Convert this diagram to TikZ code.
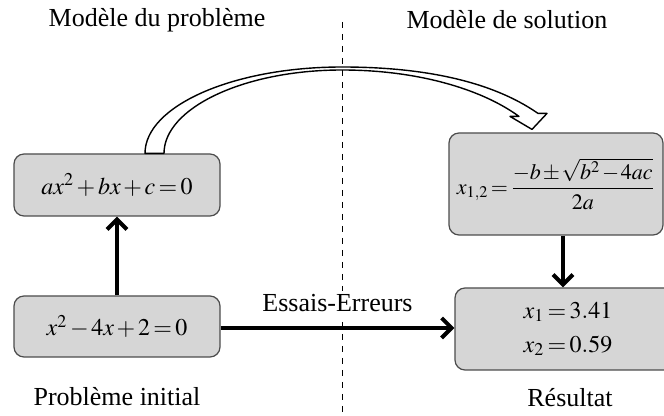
\documentclass[tikz,border=0pt]{standalone}
\usepackage{amsmath}
\usepackage{mathptmx}
\usepackage[no-math]{fontspec}
\setmainfont{Liberation Serif}
\usepackage{tikz}
\usetikzlibrary{arrows.meta,calc,positioning}
\newcommand{\tightmath}{\medmuskip=2mu\relax\thickmuskip=2.5mu\relax}
\newcommand{\tightermath}{\medmuskip=1.5mu\relax\thickmuskip=2mu\relax}
\tikzset{
	model box/.style={draw=black!70, fill=black!16, rounded corners=5pt,
		line width=0.6pt, inner sep=2pt,
		font=\fontsize{12}{14}\selectfont\tightmath},
	caption/.style={font=\fontsize{13}{15}\selectfont, inner sep=1pt},
	flow/.style={line width=2pt,
		-{Straight Barb[length=5pt,width=10pt,line width=2pt]}},
	hollow/.style={draw=black, fill=white, line width=0.7pt, line join=round},
	sep line/.style={dashed, line width=0.5pt}
}

\begin{document}
\begin{tikzpicture}[x=0.5pt,y=-0.5pt]
   \useasboundingbox (0,0) rectangle (664,416);
   % titles
   \node[caption] (tprob) at (157,20) {Modèle du problème};
   \node[caption] (tsol)  at (507,20) {Modèle de solution};
   \coordinate (septop) at (342,22);
   \coordinate (sepbot) at (342,416);
   \draw[sep line] (septop) -- (sepbot);
   % boxes
   \node[model box, minimum width=103pt, minimum height=31pt] (general) at (117,185)
      {$ax^2+bx+c=0$};
   \node[model box, minimum width=103pt, minimum height=30.5pt] (initial) at (117,326.5)
      {$x^2-4x+2=0$};
   \node[model box, minimum width=107pt, minimum height=51pt,
         font=\fontsize{11}{13}\selectfont\tightermath] (formula) at (556,184)
      {$x_{1,2}=\dfrac{-b\pm\sqrt{b^2-4ac}}{2a}$};
   \node[model box, minimum width=113pt, minimum height=41pt, align=center] (result) at (568,329)
      {$x_1=3.41$\\[3pt]$x_2=0.59$};
   \node[caption] (linitial) at (117,397) {Problème initial};
   \node[caption] (lresult)  at (570,398) {Résultat};
   % arrows
   \draw[flow] (initial) -- (general);
   \draw[flow] ([xshift=3.5pt]formula.south) -- ([xshift=3.5pt]formula.south |- result.north);
   \draw[flow] ([yshift=-0.75pt]initial.east) -- ([yshift=-0.75pt]initial.east -| result.west)
      node[caption, midway, above=5pt, fill=white, inner sep=2pt] (trial) {Essais-Erreurs};
   % hollow arrow
   \coordinate (hoA) at ($(general.north)+(28,0)$);
   \coordinate (hoB) at ($(general.north)+(47,0)$);
   \coordinate (tip) at ($(formula.north)+(-24,-3)$);
   \draw[hollow] (hoA) .. controls (145,106) and (233,67) .. (342,67)
      .. controls (420,67) and (490,80) .. ($(tip)+(6,-16)$)
      -- ($(tip)+(15,-16)$) -- (tip) -- ($(tip)+(-22,-13)$) -- ($(tip)+(-13,-13)$)
      .. controls (480,88) and (415,70) .. (342,70)
      .. controls (244,70) and (164,108) .. (hoB) -- cycle;
\end{tikzpicture}
\end{document}
